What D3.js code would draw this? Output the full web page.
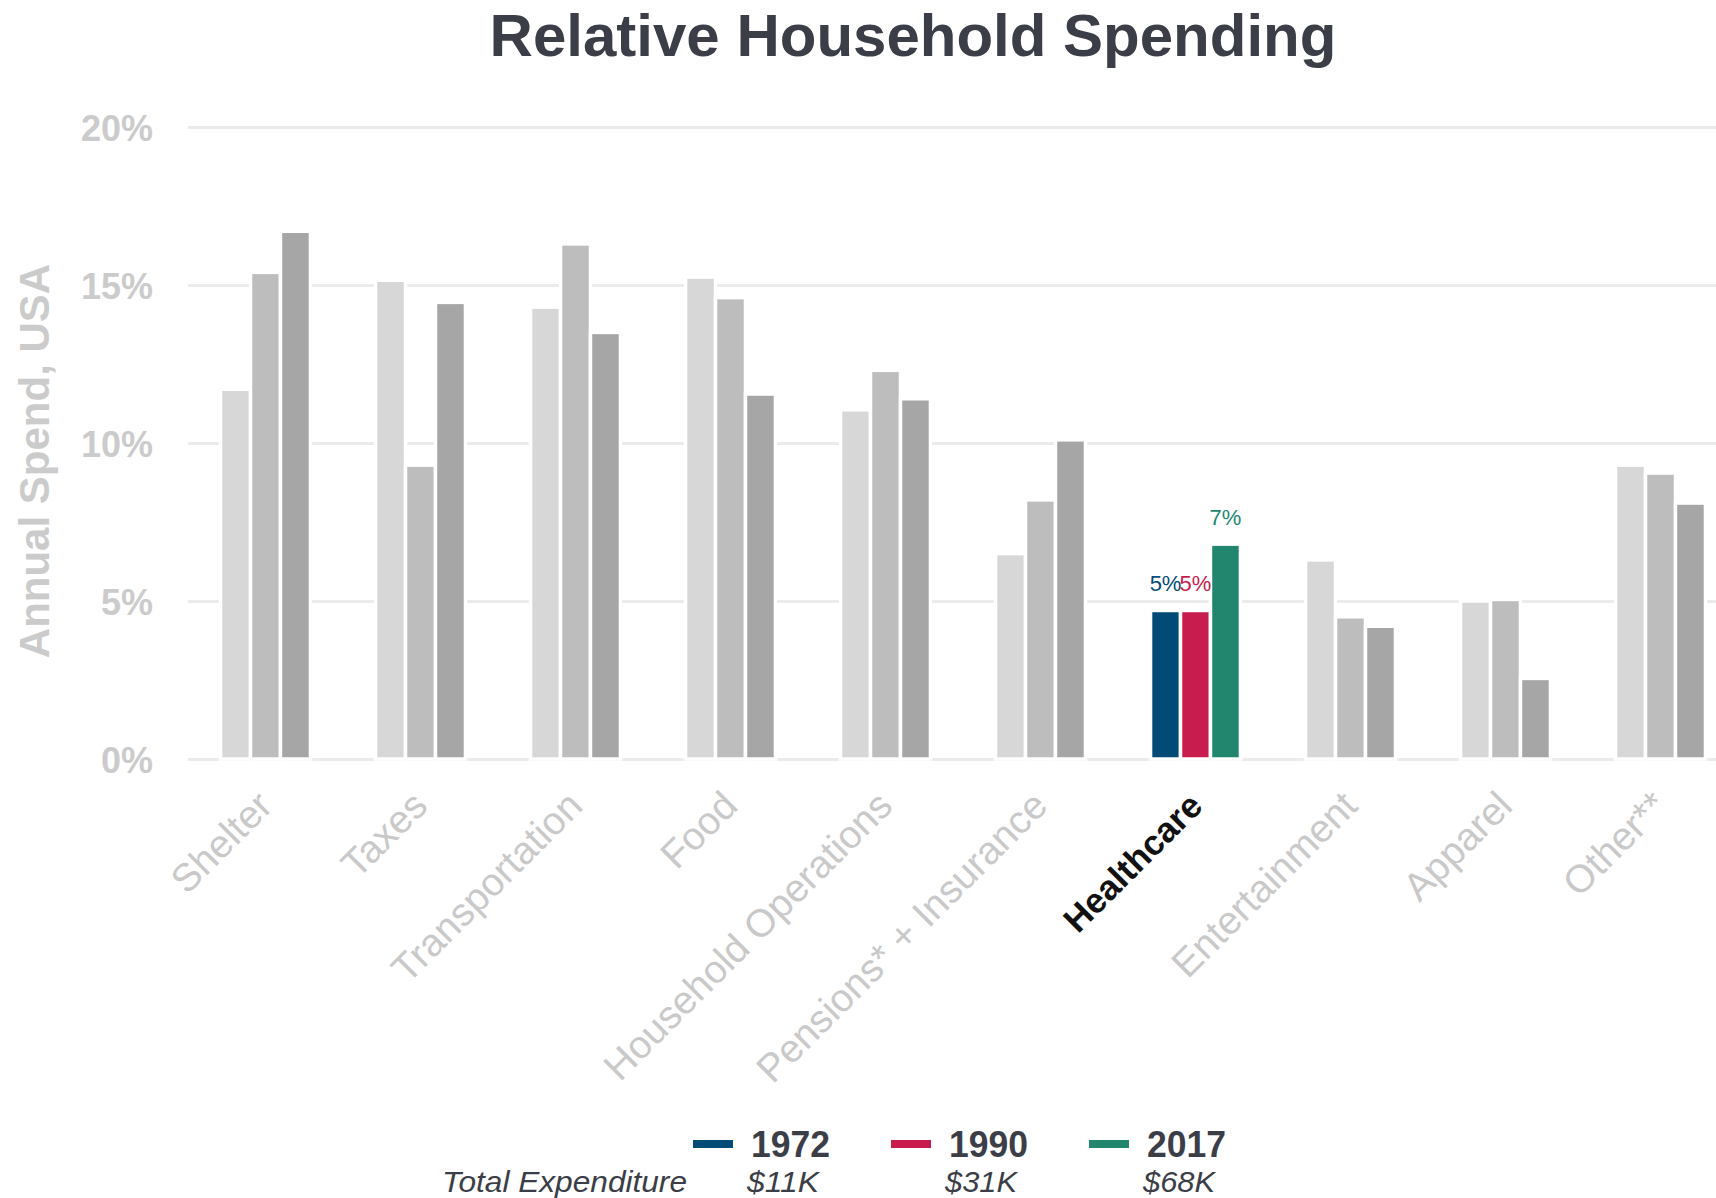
<!DOCTYPE html>
<html>
<head>
<meta charset="utf-8">
<script src="https://cdn.jsdelivr.net/npm/d3@7"></script>
<style>
  html, body { margin: 0; padding: 0; background: #ffffff; }
  svg { display: block; font-family: "Liberation Sans", Arial, Helvetica, sans-serif; }
</style>
</head>
<body>
<svg id="chart" width="1716" height="1198"></svg>
<script>
// Share of annual household spending (%), USA, by category and survey year
const categories = ["Shelter", "Taxes", "Transportation", "Food", "Household Operations",
  "Pensions* + Insurance", "Healthcare", "Entertainment", "Apparel", "Other**"];
const years = ["1972", "1990", "2017"];
const spend1972 = [11.7, 15.15, 14.3, 15.25, 11.05, 6.5, 4.7, 6.3, 5.0, 9.3];
const spend1990 = [15.4, 9.3, 16.3, 14.6, 12.3, 8.2, 4.7, 4.5, 5.05, 9.05];
const spend2017 = [16.7, 14.45, 13.5, 11.55, 11.4, 10.1, 6.8, 4.2, 2.55, 8.1];
const totalExpenditure = ["$11K", "$31K", "$68K"];
const yTicks = [0, 5, 10, 15, 20];
const focusCategory = "Healthcare";

const seriesByYear = { "1972": spend1972, "1990": spend1990, "2017": spend2017 };
const focusColors = { "1972": "#024b76", "1990": "#c91c4e", "2017": "#22866f" };
const mutedColors = { "1972": "#d7d7d7", "1990": "#bdbdbd", "2017": "#a6a6a6" };

const svg = d3.select("#chart");
const W = 1716;
const plotLeft = 188;

const x = d3.scaleBand().domain(categories).range([plotLeft, 1738])
  .paddingInner(0.42).paddingOuter(0.21);
const xSub = d3.scaleBand().domain(years).range([0, x.bandwidth()]);
const y = d3.scaleLinear().domain([0, 20]).range([759, 127]);

// Title
svg.append("text")
  .attr("x", 913).attr("y", 56)
  .attr("text-anchor", "middle")
  .attr("font-size", 60).attr("font-weight", "bold")
  .attr("fill", "#3b3e47")
  .text("Relative Household Spending");

// Horizontal grid + y tick labels
const yAxis = svg.append("g")
  .attr("transform", `translate(${plotLeft},0)`)
  .call(d3.axisLeft(y).tickValues(yTicks).tickSize(-(W - plotLeft)).tickPadding(35)
    .tickFormat(d => d + "%"));
yAxis.select(".domain").remove();
yAxis.selectAll(".tick line").attr("stroke", "#ebebeb").attr("stroke-width", 3);
yAxis.selectAll(".tick text")
  .attr("font-size", 36).attr("font-weight", "bold")
  .attr("font-family", "Liberation Sans, Arial, sans-serif")
  .attr("fill", "#cbcbcb")
  .attr("dy", "0.38em");

// Y axis title
svg.append("text")
  .attr("transform", "translate(49,461) rotate(-90)")
  .attr("text-anchor", "middle")
  .attr("font-size", 42).attr("font-weight", "bold")
  .attr("fill", "#cbcbcb")
  .text("Annual Spend, USA");

// Bars
const rows = categories.flatMap((c, i) => years.map(yr => ({ cat: c, year: yr, value: seriesByYear[yr][i] })));

svg.append("g").selectAll("rect")
  .data(rows)
  .join("rect")
  .attr("x", d => x(d.cat) + xSub(d.year))
  .attr("width", xSub.bandwidth())
  .attr("y", d => y(d.value))
  .attr("height", d => y(0) - y(d.value))
  .attr("fill", d => d.cat === focusCategory ? focusColors[d.year] : mutedColors[d.year])
  .attr("stroke", "#ffffff")
  .attr("stroke-width", 3.5);

// Value labels on the focus category
svg.append("g").selectAll("text")
  .data(rows.filter(d => d.cat === focusCategory))
  .join("text")
  .attr("x", d => x(d.cat) + xSub(d.year) + xSub.bandwidth() / 2)
  .attr("y", d => y(d.value) - 19)
  .attr("text-anchor", "middle")
  .attr("font-size", 22)
  .attr("fill", d => focusColors[d.year])
  .text(d => Math.round(d.value) + "%");

// Category labels, angled
svg.append("g").selectAll("text")
  .data(categories)
  .join("text")
  .attr("transform", c => `translate(${x(c) + x.bandwidth() / 2 + 9},808) rotate(-45)`)
  .attr("text-anchor", "end")
  .attr("font-size", c => c === focusCategory ? 35 : 39)
  .attr("font-weight", c => c === focusCategory ? "bold" : "normal")
  .attr("fill", c => c === focusCategory ? "#111111" : "#c9c9c9")
  .text(c => c);

// Legend: year swatches and total expenditure
const legendSwatchX = [693, 891, 1089];
const legend = svg.append("g");
years.forEach((yr, i) => {
  legend.append("line")
    .attr("x1", legendSwatchX[i]).attr("x2", legendSwatchX[i] + 40)
    .attr("y1", 1144).attr("y2", 1144)
    .attr("stroke", focusColors[yr]).attr("stroke-width", 8);
  legend.append("text")
    .attr("x", legendSwatchX[i] + 58).attr("y", 1157)
    .attr("font-size", 37).attr("font-weight", "bold")
    .attr("fill", "#3b3e47")
    .attr("textLength", 79).attr("lengthAdjust", "spacingAndGlyphs")
    .text(yr);
  legend.append("text")
    .attr("x", legendSwatchX[i] + 54).attr("y", 1192)
    .attr("font-size", 30).attr("font-style", "italic")
    .attr("fill", "#3b3e47")
    .attr("textLength", 72).attr("lengthAdjust", "spacingAndGlyphs")
    .text(totalExpenditure[i]);
});
legend.append("text")
  .attr("x", 442).attr("y", 1192)
  .attr("font-size", 30).attr("font-style", "italic")
  .attr("fill", "#3b3e47")
  .attr("textLength", 245).attr("lengthAdjust", "spacingAndGlyphs")
  .text("Total Expenditure");
</script>
</body>
</html>
